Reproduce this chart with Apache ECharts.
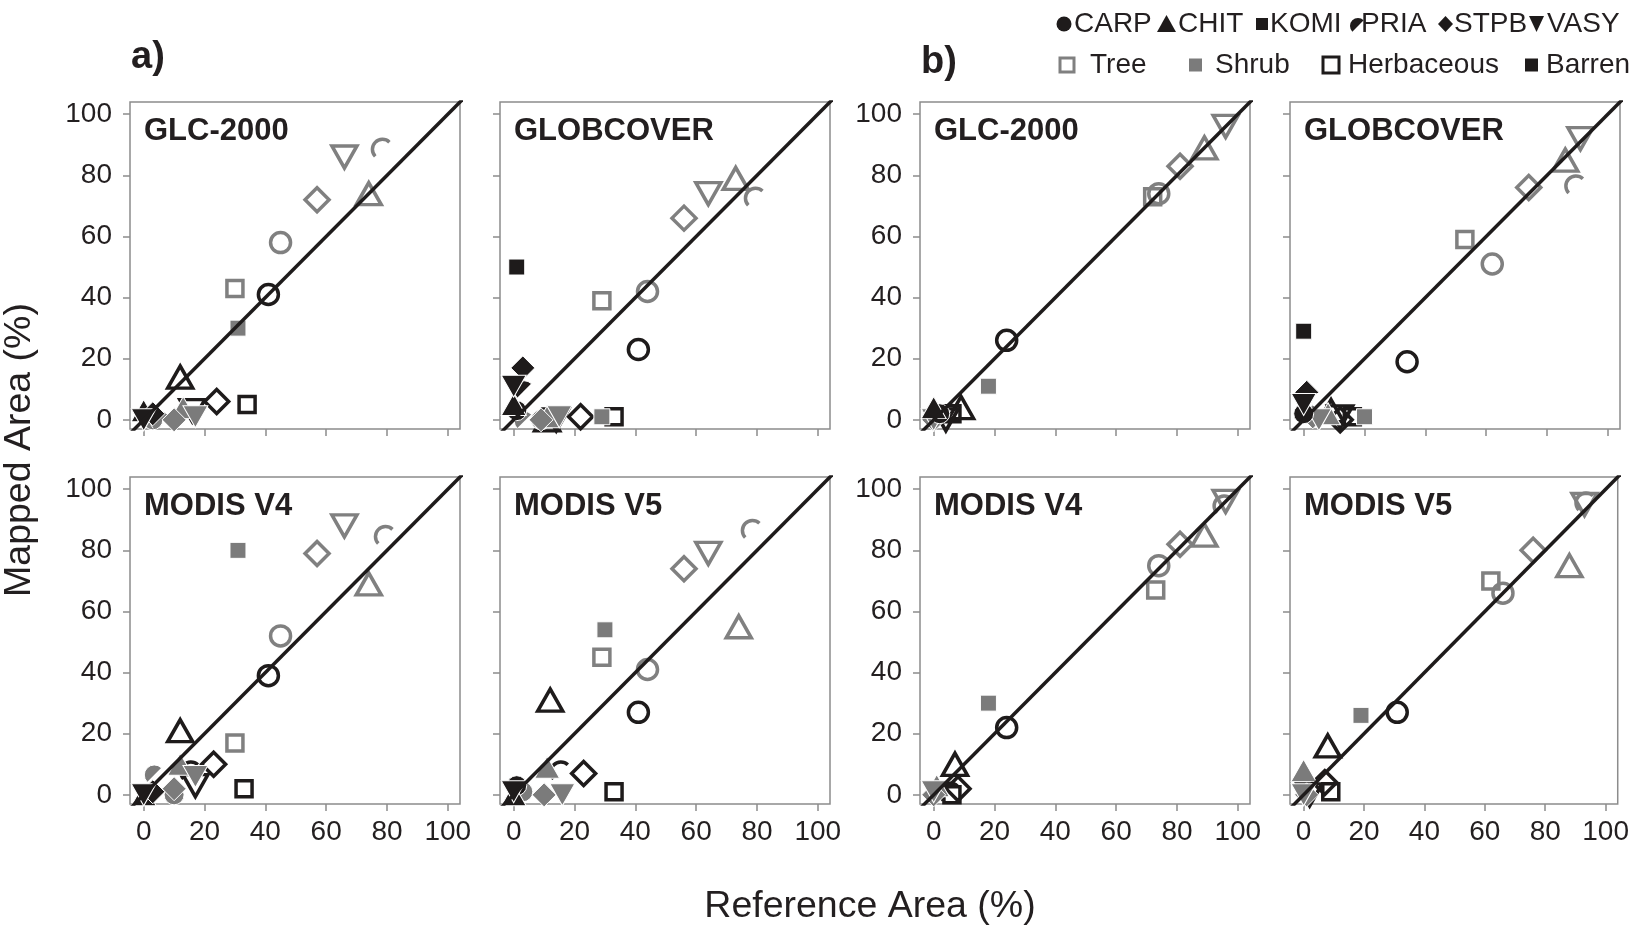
<!DOCTYPE html>
<html>
<head>
<meta charset="utf-8">
<script src="https://cdn.jsdelivr.net/npm/echarts@6/dist/echarts.min.js"></script>
<style>
  html, body { margin: 0; background: #fff; }
  #main { width: 1632px; height: 928px; }
</style>
</head>
<body>
<div id="main"></div>
<script>
// sites give the marker shape, land cover class gives colour / fill
const sites = ['CARP', 'CHIT', 'KOMI', 'PRIA', 'STPB', 'VASY'];
const classes = ['Tree', 'Shrub', 'Herbaceous', 'Barren'];
const ticks = [0, 20, 40, 60, 80, 100];
const products = ['GLC-2000', 'GLOBCOVER', 'MODIS V4', 'MODIS V5'];

// [site, class, reference area %, mapped area %]
// a) panels
const aGlc2000 = [
  ['CARP', 'Tree', 45, 58], ['CARP', 'Herbaceous', 41, 41], ['CARP', 'Shrub', 3, 0],
  ['CHIT', 'Tree', 74, 74], ['CHIT', 'Herbaceous', 12, 14], ['CHIT', 'Shrub', 13, 4], ['CHIT', 'Barren', 0, 3],
  ['KOMI', 'Tree', 30, 43], ['KOMI', 'Shrub', 31, 30], ['KOMI', 'Herbaceous', 34, 5],
  ['PRIA', 'Tree', 78, 89], ['PRIA', 'Shrub', 5, 0],
  ['STPB', 'Tree', 57, 72], ['STPB', 'Herbaceous', 24, 6], ['STPB', 'Shrub', 10, 0], ['STPB', 'Barren', 3, 2],
  ['VASY', 'Tree', 66, 86], ['VASY', 'Herbaceous', 16, 3], ['VASY', 'Shrub', 17, 1], ['VASY', 'Barren', 0, 0]
];
const aGlobcover = [
  ['CARP', 'Tree', 44, 42], ['CARP', 'Herbaceous', 41, 23], ['CARP', 'Shrub', 9, 0], ['CARP', 'Barren', 1, 3],
  ['CHIT', 'Tree', 73, 79], ['CHIT', 'Herbaceous', 11, 0], ['CHIT', 'Shrub', 11, 1], ['CHIT', 'Barren', 0, 5],
  ['KOMI', 'Tree', 29, 39], ['KOMI', 'Herbaceous', 33, 1], ['KOMI', 'Shrub', 29, 1], ['KOMI', 'Barren', 1, 50],
  ['PRIA', 'Tree', 79, 73], ['PRIA', 'Shrub', 3, 0], ['PRIA', 'Barren', 3, 10],
  ['STPB', 'Tree', 56, 66], ['STPB', 'Herbaceous', 22, 1], ['STPB', 'Shrub', 9, 0], ['STPB', 'Barren', 3, 17],
  ['VASY', 'Tree', 64, 74], ['VASY', 'Herbaceous', 14, 0], ['VASY', 'Shrub', 15, 1], ['VASY', 'Barren', 0, 11]
];
const aModisV4 = [
  ['CARP', 'Tree', 45, 52], ['CARP', 'Herbaceous', 41, 39], ['CARP', 'Shrub', 10, 0],
  ['CHIT', 'Tree', 74, 69], ['CHIT', 'Herbaceous', 12, 21], ['CHIT', 'Shrub', 12, 10], ['CHIT', 'Barren', 0, 0],
  ['KOMI', 'Tree', 30, 17], ['KOMI', 'Herbaceous', 33, 2], ['KOMI', 'Shrub', 31, 80],
  ['PRIA', 'Tree', 79, 85], ['PRIA', 'Herbaceous', 15, 8], ['PRIA', 'Shrub', 3, 7],
  ['STPB', 'Tree', 57, 79], ['STPB', 'Herbaceous', 23, 10], ['STPB', 'Shrub', 10, 2], ['STPB', 'Barren', 3, 1],
  ['VASY', 'Tree', 66, 88], ['VASY', 'Herbaceous', 17, 3], ['VASY', 'Shrub', 17, 6], ['VASY', 'Barren', 0, 0]
];
const aModisV5 = [
  ['CARP', 'Tree', 44, 41], ['CARP', 'Herbaceous', 41, 27], ['CARP', 'Shrub', 3, 1], ['CARP', 'Barren', 1, 3],
  ['CHIT', 'Tree', 74, 55], ['CHIT', 'Herbaceous', 12, 31], ['CHIT', 'Shrub', 11, 9], ['CHIT', 'Barren', 0, 0],
  ['KOMI', 'Tree', 29, 45], ['KOMI', 'Herbaceous', 33, 1], ['KOMI', 'Shrub', 30, 54],
  ['PRIA', 'Tree', 78, 87], ['PRIA', 'Herbaceous', 15, 8],
  ['STPB', 'Tree', 56, 74], ['STPB', 'Herbaceous', 23, 7], ['STPB', 'Shrub', 10, 0],
  ['VASY', 'Tree', 64, 79], ['VASY', 'Shrub', 16, 0], ['VASY', 'Barren', 0, 1]
];
// b) panels
const bGlc2000 = [
  ['CARP', 'Tree', 74, 74], ['CARP', 'Herbaceous', 24, 26], ['CARP', 'Barren', 2, 2],
  ['CHIT', 'Tree', 89, 89], ['CHIT', 'Herbaceous', 9, 4], ['CHIT', 'Barren', 0, 4],
  ['KOMI', 'Tree', 72, 73], ['KOMI', 'Herbaceous', 6, 2], ['KOMI', 'Shrub', 18, 11],
  ['PRIA', 'Herbaceous', 5, 2],
  ['STPB', 'Tree', 81, 83], ['STPB', 'Shrub', 0, 0],
  ['VASY', 'Tree', 96, 96], ['VASY', 'Herbaceous', 4, 0], ['VASY', 'Shrub', 0, 0]
];
const bGlobcover = [
  ['CARP', 'Tree', 62, 51], ['CARP', 'Herbaceous', 34, 19], ['CARP', 'Barren', 0, 2],
  ['CHIT', 'Tree', 86, 85], ['CHIT', 'Herbaceous', 9, 3], ['CHIT', 'Shrub', 8, 2],
  ['KOMI', 'Tree', 53, 59], ['KOMI', 'Herbaceous', 16, 1], ['KOMI', 'Shrub', 20, 1], ['KOMI', 'Barren', 0, 29],
  ['PRIA', 'Tree', 89, 77],
  ['STPB', 'Tree', 74, 76], ['STPB', 'Herbaceous', 12, 0], ['STPB', 'Shrub', 3, 1], ['STPB', 'Barren', 1, 9],
  ['VASY', 'Tree', 91, 92], ['VASY', 'Herbaceous', 12, 1], ['VASY', 'Shrub', 5, 0], ['VASY', 'Barren', 0, 5]
];
const bModisV4 = [
  ['CARP', 'Tree', 74, 75], ['CARP', 'Herbaceous', 24, 22],
  ['CHIT', 'Tree', 89, 85], ['CHIT', 'Herbaceous', 7, 10], ['CHIT', 'Shrub', 1, 3],
  ['KOMI', 'Tree', 73, 67], ['KOMI', 'Herbaceous', 6, 0], ['KOMI', 'Shrub', 18, 30],
  ['PRIA', 'Tree', 95, 95], ['PRIA', 'Herbaceous', 5, 1],
  ['STPB', 'Tree', 81, 82], ['STPB', 'Herbaceous', 8, 2], ['STPB', 'Shrub', 0, 0],
  ['VASY', 'Tree', 96, 96], ['VASY', 'Shrub', 0, 1]
];
const bModisV5 = [
  ['CARP', 'Tree', 66, 66], ['CARP', 'Herbaceous', 31, 27],
  ['CHIT', 'Tree', 88, 75], ['CHIT', 'Herbaceous', 8, 16], ['CHIT', 'Shrub', 0, 8],
  ['KOMI', 'Tree', 62, 70], ['KOMI', 'Herbaceous', 9, 1], ['KOMI', 'Shrub', 19, 26],
  ['PRIA', 'Tree', 93, 96],
  ['STPB', 'Tree', 76, 80], ['STPB', 'Herbaceous', 7, 4], ['STPB', 'Shrub', 1, 0],
  ['VASY', 'Tree', 93, 95], ['VASY', 'Herbaceous', 2, 0], ['VASY', 'Shrub', 0, 0]
];

const BLACK = '#1e1b1b';
const GREY = '#808080';
const FONT = 'Liberation Sans, Arial, Helvetica, sans-serif';
// half circle arc, open to lower right
const PRIA_PATH = 'path://M 17.07 2.93 A 10 10 0 0 0 2.93 17.07';

const shapeOf = {
  CARP: { symbol: 'circle', size: 20 },
  CHIT: { symbol: 'triangle', size: [25, 22] },
  KOMI: { symbol: 'rect', size: 16 },
  PRIA: { symbol: PRIA_PATH, size: 17 },
  STPB: { symbol: 'diamond', size: [24, 24] },
  VASY: { symbol: 'triangle', size: [25, 22], rotate: 180 }
};
const classStyle = {
  Tree: { color: 'transparent', borderColor: GREY, borderWidth: 3.5, opacity: 1 },
  Shrub: { color: '#7b7b7b', borderColor: '#fff', borderWidth: 1, opacity: 1 },
  Herbaceous: { color: 'transparent', borderColor: BLACK, borderWidth: 3.5, opacity: 1 },
  Barren: { color: BLACK, borderColor: '#fff', borderWidth: 1, opacity: 1 }
};
const drawOrder = ['Tree', 'Herbaceous', 'Shrub', 'Barren'];

const lefts = [130, 500, 920, 1290];
const tops = [102, 477];
const panels = [
  { data: aGlc2000, name: products[0], col: 0, row: 0 },
  { data: aGlobcover, name: products[1], col: 1, row: 0 },
  { data: aModisV4, name: products[2], col: 0, row: 1 },
  { data: aModisV5, name: products[3], col: 1, row: 1 },
  { data: bGlc2000, name: products[0], col: 2, row: 0 },
  { data: bGlobcover, name: products[1], col: 3, row: 0 },
  { data: bModisV4, name: products[2], col: 2, row: 1 },
  { data: bModisV5, name: products[3], col: 3, row: 1 }
];

const grids = [], xAxes = [], yAxes = [], series = [];
const graphics = [];

const tickStyle = { show: true, length: 7, customValues: ticks, lineStyle: { color: '#8c8c8c', width: 1.5 } };

panels.forEach((p, i) => {
  const left = lefts[p.col], top = tops[p.row];
  grids.push({ left: left, top: top, width: 330, height: 327, show: true,
    borderColor: '#8c8c8c', borderWidth: 1.5, backgroundColor: 'transparent' });
  xAxes.push({
    gridIndex: i, type: 'value', min: -4.5, max: 104,
    splitLine: { show: false }, axisLine: { show: false, onZero: false },
    axisTick: tickStyle,
    axisLabel: { show: p.row === 1, customValues: ticks, margin: 14,
      fontSize: 28, color: '#231f20', fontFamily: FONT }
  });
  yAxes.push({
    gridIndex: i, type: 'value', min: -3, max: 104,
    splitLine: { show: false }, axisLine: { show: false, onZero: false },
    axisTick: tickStyle,
    axisLabel: { show: p.col % 2 === 0, customValues: ticks, margin: 18,
      fontSize: 28, color: '#231f20', fontFamily: FONT }
  });
  // 1:1 line
  series.push({
    type: 'line', xAxisIndex: i, yAxisIndex: i, data: [[-10, -10], [110, 110]],
    symbol: 'none', silent: true, clip: true,
    lineStyle: { color: BLACK, width: 3.5 }
  });
  drawOrder.forEach(cls => {
    series.push({
      type: 'scatter', name: cls, xAxisIndex: i, yAxisIndex: i,
      itemStyle: classStyle[cls],
      data: p.data.filter(d => d[1] === cls).map(d => {
        const s = shapeOf[d[0]];
        return { value: [d[2], d[3]], symbol: s.symbol, symbolSize: s.size, symbolRotate: s.rotate || 0 };
      })
    });
  });
  graphics.push({
    type: 'text', x: left + 14, y: top + 29,
    style: { text: p.name, fontSize: 31, fontWeight: 'bold', fontFamily: FONT, fill: '#231f20',
      align: 'left', verticalAlign: 'middle', textAlign: 'left', textVerticalAlign: 'middle' }
  });
});

function label(text, x, y, size, weight, rot) {
  return {
    type: 'text', x: x, y: y, rotation: rot || 0,
    style: { text: text, fontSize: size, fontWeight: weight || 'normal', fontFamily: FONT, fill: '#231f20',
      align: 'center', verticalAlign: 'middle', textAlign: 'center', textVerticalAlign: 'middle' }
  };
}
function leftLabel(text, x, y, size, weight) {
  const g = label(text, x, y, size, weight);
  g.style.align = 'left'; g.style.textAlign = 'left';
  return g;
}

graphics.push(leftLabel('a)', 131, 58, 38, 'bold'));
graphics.push(leftLabel('b)', 921, 63, 38, 'bold'));
graphics.push(label('Mapped Area (%)', 20, 450, 37.5, 'normal', Math.PI / 2));
graphics.push(label('Reference Area (%)', 870, 907, 37.5));

// legend, row 1: site shapes
const r1 = 24;
graphics.push({ type: 'circle', shape: { cx: 1064, cy: r1, r: 7.5 }, style: { fill: BLACK } });
graphics.push({ type: 'polygon', shape: { points: [[1157, r1 + 8], [1176, r1 + 8], [1166.5, r1 - 9]] }, style: { fill: BLACK } });
graphics.push({ type: 'rect', shape: { x: 1256, y: r1 - 6, width: 12, height: 12 }, style: { fill: BLACK } });
graphics.push({ type: 'sector', shape: { cx: 1358, cy: r1 + 2, r: 8, r0: 0, startAngle: Math.PI * 0.75, endAngle: Math.PI * 1.75, clockwise: true }, style: { fill: BLACK } });
graphics.push({ type: 'polygon', shape: { points: [[1438, r1], [1445.5, r1 - 8], [1453, r1], [1445.5, r1 + 8]] }, style: { fill: BLACK } });
graphics.push({ type: 'polygon', shape: { points: [[1529, r1 - 8], [1544, r1 - 8], [1536.5, r1 + 8]] }, style: { fill: BLACK } });
const r1Text = [1074, 1178, 1270, 1361, 1454, 1547];
sites.forEach((s, k) => graphics.push(leftLabel(s, r1Text[k], r1, 28)));

// legend, row 2: cover classes
const r2 = 65;
graphics.push({ type: 'rect', shape: { x: 1060, y: r2 - 7, width: 14, height: 14 }, style: { fill: '#fff', stroke: GREY, lineWidth: 3 } });
graphics.push({ type: 'rect', shape: { x: 1189, y: r2 - 6.5, width: 13, height: 13 }, style: { fill: '#7b7b7b' } });
graphics.push({ type: 'rect', shape: { x: 1323, y: r2 - 8, width: 16, height: 16 }, style: { fill: '#fff', stroke: BLACK, lineWidth: 3 } });
graphics.push({ type: 'rect', shape: { x: 1525, y: r2 - 6.5, width: 13, height: 13 }, style: { fill: BLACK } });
const r2Text = [1090, 1215, 1348, 1546];
classes.forEach((c, k) => graphics.push(leftLabel(c, r2Text[k], r2, 28)));

const chart = echarts.init(document.getElementById('main'));
chart.setOption({
  animation: false,
  backgroundColor: '#fff',
  grid: grids,
  xAxis: xAxes,
  yAxis: yAxes,
  series: series,
  graphic: graphics
});
</script>
</body>
</html>
